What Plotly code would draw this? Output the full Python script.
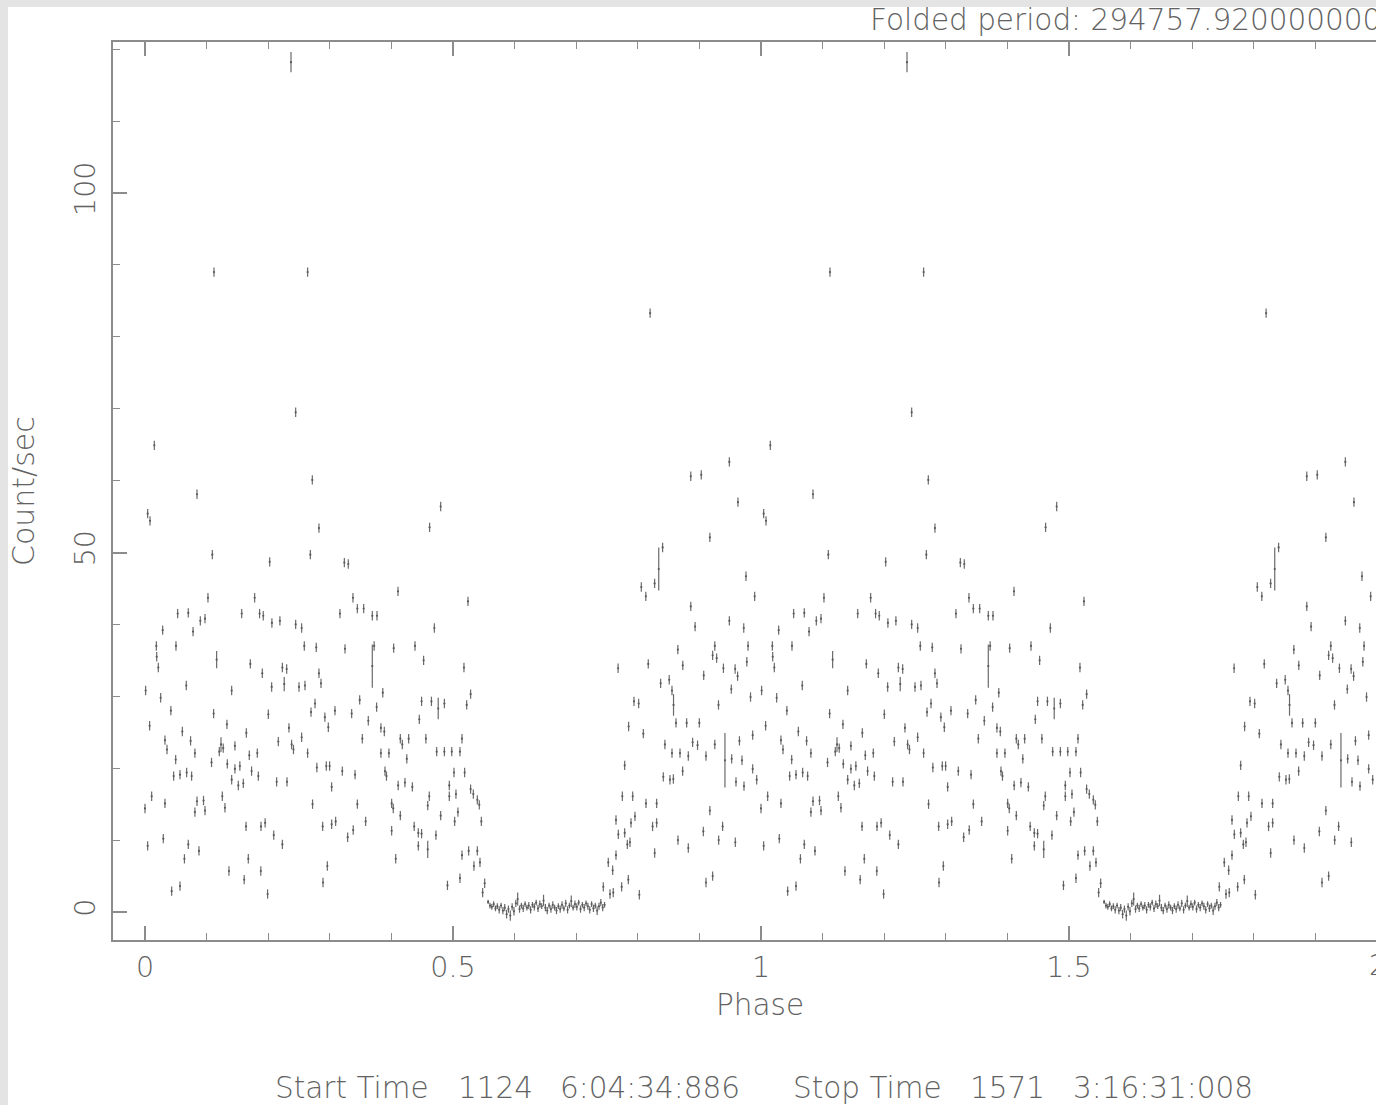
import plotly.graph_objects as go

# ---------------- data (phase, count rate [, error]) ----------------
DEFAULT_ERR = 0.65

flare_points = [
    (0.112, 89.0), (0.237, 118.2, 1.4), (0.264, 89.0), (0.82, 83.3),
    (0.2446, 69.5), (0.0151, 64.9), (0.9486, 62.6), (0.2716, 60.1),
    (0.886, 60.6), (0.903, 60.8), (0.0844, 58.1), (0.9626, 57.0),
]

first_half = [
    (0.001, 30.8), (0.000, 14.4), (0.0043, 55.4), (0.0081, 54.4), (0.0043, 9.2),
    (0.0075, 25.9), (0.0108, 16.1), (0.019, 35.5), (0.0216, 34.0), (0.0184, 37.0),
    (0.0254, 29.8), (0.0287, 39.2), (0.0297, 10.2), (0.0324, 23.9), (0.0324, 15.1),
    (0.0357, 22.6), (0.042, 28.0), (0.0433, 2.9), (0.0465, 18.9), (0.0498, 21.2),
    (0.0503, 37.0), (0.053, 41.5), (0.0568, 19.1), (0.0568, 3.6), (0.0606, 25.1),
    (0.064, 7.4), (0.067, 31.5), (0.0676, 19.4), (0.0703, 41.6), (0.0703, 9.4),
    (0.074, 23.8), (0.0757, 18.9), (0.078, 39.0), (0.081, 22.1), (0.081, 13.9),
    (0.0844, 15.4), (0.0876, 8.5), (0.0898, 40.5), (0.095, 15.5), (0.0974, 40.8),
    (0.0974, 14.1), (0.1022, 43.7), (0.1093, 49.7), (0.108, 20.8), (0.1114, 27.6),
    (0.1163, 35.1, 1.2), (0.1206, 22.3), (0.1234, 23.3, 1.0), (0.1255, 16.1),
    (0.127, 22.8), (0.1298, 14.5), (0.133, 26.1), (0.1336, 20.6), (0.1363, 5.7),
    (0.1407, 30.8), (0.1407, 18.4), (0.146, 23.1), (0.146, 19.9), (0.1515, 17.6),
    (0.154, 20.3), (0.157, 41.5), (0.1596, 17.9), (0.161, 4.5), (0.164, 11.9),
    (0.1645, 24.9), (0.1677, 7.4), (0.1693, 21.8), (0.171, 34.5), (0.173, 19.6),
    (0.178, 43.7), (0.1823, 22.1), (0.184, 18.9), (0.186, 41.5), (0.188, 5.7),
    (0.1883, 11.9), (0.1904, 33.2), (0.192, 41.2), (0.195, 12.4), (0.199, 2.5),
    (0.2002, 27.5), (0.2024, 48.7), (0.2056, 31.3), (0.206, 40.2), (0.209, 10.7),
    (0.2137, 18.1), (0.2164, 23.7), (0.219, 40.5), (0.223, 34.0), (0.223, 9.4),
    (0.226, 31.7, 1.0), (0.230, 33.8), (0.2305, 18.1), (0.2337, 25.6), (0.238, 23.3),
    (0.241, 22.6), (0.2446, 40.0), (0.25, 31.3), (0.2543, 39.5), (0.2543, 24.3),
    (0.2586, 37.0), (0.2597, 31.5), (0.264, 22.1), (0.2684, 49.7), (0.2695, 27.8),
    (0.272, 15.0), (0.276, 29.0), (0.278, 36.8), (0.279, 20.1), (0.2824, 53.4),
    (0.2824, 33.2), (0.2857, 31.8), (0.2884, 11.9), (0.289, 4.1), (0.292, 27.1),
    (0.2943, 20.3), (0.296, 6.4), (0.2976, 25.7), (0.2997, 20.3), (0.303, 17.4),
    (0.303, 12.2), (0.3084, 28.0), (0.3095, 12.6), (0.3165, 41.5), (0.3203, 19.6),
    (0.3236, 48.6), (0.3247, 36.6), (0.329, 10.4), (0.330, 48.4), (0.3355, 27.6),
    (0.3376, 43.7), (0.338, 11.4), (0.341, 19.1), (0.3447, 42.2), (0.3447, 15.0),
    (0.3485, 29.5), (0.3528, 24.1), (0.355, 42.2), (0.3582, 12.6), (0.3625, 26.6),
    (0.369, 41.2), (0.369, 34.2, 3.0), (0.372, 37.0), (0.376, 28.5), (0.3766, 41.2),
    (0.383, 25.6), (0.383, 22.1), (0.386, 30.5), (0.3885, 25.1), (0.3896, 19.6),
    (0.392, 18.9), (0.396, 22.1), (0.4004, 15.1), (0.4004, 11.3), (0.403, 14.4),
    (0.4037, 36.7), (0.407, 7.4), (0.4107, 44.6), (0.411, 17.6), (0.4145, 24.1),
    (0.4145, 13.4), (0.4177, 23.3), (0.422, 18.0), (0.425, 21.3), (0.428, 24.1),
    (0.434, 17.4), (0.437, 11.9), (0.4383, 37.0), (0.4437, 11.0), (0.4437, 9.2),
    (0.4453, 26.8), (0.449, 29.3), (0.449, 10.9), (0.4523, 35.0), (0.456, 24.1),
    (0.459, 14.8), (0.459, 8.7, 1.2), (0.4615, 16.1), (0.462, 53.5), (0.465, 29.3),
    (0.4697, 39.5), (0.4723, 10.7), (0.4735, 22.3), (0.476, 28.3, 1.5), (0.48, 56.4),
    (0.48, 13.4), (0.486, 29.0), (0.486, 22.3), (0.491, 3.7), (0.494, 17.6),
    (0.494, 16.1), (0.498, 22.3),
]

second_half = [
    (0.5016, 19.4), (0.5027, 12.6), (0.5048, 16.4), (0.508, 13.9), (0.5113, 22.3),
    (0.5113, 4.7), (0.5146, 24.1), (0.5146, 7.9), (0.5178, 34.0), (0.5189, 19.4),
    (0.5222, 28.8), (0.5243, 43.2), (0.5254, 8.5), (0.5286, 30.3), (0.5286, 17.1),
    (0.533, 16.4), (0.534, 6.4), (0.5395, 15.6), (0.5395, 8.5), (0.5427, 14.9),
    (0.5438, 6.9), (0.546, 12.6), (0.5481, 2.7), (0.5514, 4.0),
    (0.744, 3.5), (0.7521, 6.9), (0.7549, 2.5), (0.7592, 5.8), (0.7602, 2.7),
    (0.7646, 12.8), (0.7646, 7.9), (0.768, 33.9), (0.7684, 10.8), (0.7738, 3.5),
    (0.7749, 16.1), (0.7787, 20.4), (0.7787, 11.0), (0.783, 9.4), (0.7846, 4.5),
    (0.7851, 25.8), (0.7873, 9.7), (0.789, 12.4), (0.7917, 16.1), (0.7938, 29.3),
    (0.7954, 13.3), (0.8014, 29.0), (0.8025, 2.4), (0.8057, 45.2), (0.809, 24.8),
    (0.813, 43.9), (0.8133, 15.1), (0.817, 34.5), (0.824, 11.9), (0.8273, 45.7),
    (0.8274, 8.2), (0.8306, 15.1), (0.8306, 12.4), (0.834, 47.7, 3.0), (0.8371, 31.8),
    (0.8403, 50.7), (0.8414, 18.8), (0.844, 23.3), (0.851, 32.3), (0.8522, 18.4),
    (0.8555, 30.8), (0.8555, 22.1), (0.8577, 18.5), (0.858, 28.8, 1.5), (0.862, 26.3),
    (0.8652, 10.0), (0.865, 36.5), (0.8685, 22.1), (0.8728, 19.6), (0.873, 34.3),
    (0.8793, 26.3), (0.882, 21.7), (0.882, 8.9), (0.886, 42.5), (0.889, 23.6),
    (0.893, 39.7), (0.897, 23.2), (0.8999, 26.3), (0.9064, 11.2), (0.907, 32.9),
    (0.9107, 21.7), (0.9107, 4.1), (0.917, 52.1), (0.917, 14.1), (0.9215, 35.7),
    (0.9215, 5.0), (0.925, 37.0), (0.925, 23.3), (0.928, 35.3), (0.931, 28.8),
    (0.9313, 10.0), (0.9377, 11.9), (0.939, 33.9), (0.9415, 21.1, 3.8), (0.9486, 40.5),
    (0.9518, 31.0), (0.9524, 21.3), (0.958, 33.8), (0.9583, 9.7), (0.9594, 18.1),
    (0.962, 32.8), (0.965, 23.8), (0.9691, 21.1), (0.972, 39.5), (0.9724, 17.5),
    (0.9756, 46.7), (0.977, 34.8), (0.979, 37.0), (0.983, 29.9), (0.9865, 24.6),
    (0.9865, 19.9), (0.9897, 43.9), (0.993, 18.4),
]

eclipse_points = [
    (0.557, 1.4, 0.3), (0.560, 0.9, 0.4), (0.563, 0.7, 0.4), (0.566, 1.1, 0.4),
    (0.569, 0.5, 0.4), (0.572, 0.8, 0.4), (0.575, 0.3, 0.5), (0.578, 0.9, 0.4),
    (0.581, 0.2, 0.5), (0.584, 0.6, 0.5), (0.587, -0.3, 0.6), (0.590, 0.4, 0.5),
    (0.593, -0.5, 0.7), (0.596, 0.7, 0.5), (0.599, 0.1, 0.6), (0.602, 1.2, 0.5),
    (0.605, 1.8, 0.9), (0.608, 0.4, 0.5), (0.611, 0.9, 0.4), (0.614, 0.5, 0.5),
    (0.617, 1.1, 0.4), (0.620, 0.6, 0.4), (0.623, 0.9, 0.5), (0.626, 0.3, 0.5),
    (0.629, 1.0, 0.4), (0.632, 0.7, 0.5), (0.635, 1.3, 0.4), (0.638, 0.5, 0.5),
    (0.641, 1.1, 0.5), (0.644, 0.8, 0.4), (0.647, 1.6, 0.8), (0.650, 0.6, 0.5),
    (0.653, 0.2, 0.5), (0.656, 0.9, 0.4), (0.659, 0.4, 0.5), (0.662, 1.0, 0.5),
    (0.665, 0.6, 0.4), (0.668, 0.2, 0.5), (0.671, 0.8, 0.4), (0.674, 0.4, 0.5),
    (0.677, 1.0, 0.5), (0.680, 0.5, 0.4), (0.683, 1.2, 0.5), (0.686, 0.3, 0.5),
    (0.689, 0.9, 0.4), (0.692, 1.5, 0.8), (0.695, 0.6, 0.4), (0.698, 1.1, 0.5),
    (0.701, 0.7, 0.5), (0.704, 1.3, 0.4), (0.707, 0.4, 0.5), (0.710, 1.0, 0.4),
    (0.713, 0.6, 0.5), (0.716, 1.2, 0.4), (0.719, 0.8, 0.5), (0.722, 0.3, 0.5),
    (0.725, 1.1, 0.4), (0.728, 0.5, 0.5), (0.731, 0.9, 0.4), (0.734, 0.2, 0.6),
    (0.737, 0.8, 0.5), (0.740, 1.3, 0.5), (0.743, 0.6, 0.5), (0.746, 1.0, 0.4),
]

x_tick_values = [0, 0.5, 1, 1.5]
x_tick_labels = ["0", "0.5", "1", "1.5"]
y_tick_values = [0, 50, 100]
y_tick_labels = ["0", "50", "100"]

title_text = "Folded period: 294757.920000000"
footer_parts = ["Start Time", "1124", "6:04:34:886", "Stop Time", "1571", "3:16:31:008"]

# ---------------- build series (data folded twice) ----------------
all_pts = flare_points + first_half + second_half + eclipse_points
phase, rate, err = [], [], []
for cycle in (0, 1):
    for p in all_pts:
        phase.append(p[0] + cycle)
        rate.append(p[1])
        err.append(p[2] if len(p) > 2 else DEFAULT_ERR)

# ---------------- layout geometry (pixels) ----------------
W, H = 1376, 1105
L, R, T, B = 113, 0, 42, 165
PW, PH = W - L - R, H - T - B


def px(X):
    return (X - L) / PW


def py(Y):
    return (H - B - Y) / PH


TXT = "#626262"
AX = "#8c8c8c"
FONT = "DejaVu Sans"
WEIGHT = 200


def f(size):
    return dict(family=FONT, size=size, color=TXT, weight=WEIGHT)


fig = go.Figure()
fig.add_trace(go.Scatter(
    x=phase, y=rate, mode="markers",
    marker=dict(size=2.2, color="#5a5a5a"),
    error_y=dict(type="data", array=err, visible=True, color="#6a6a6a",
                 thickness=1.2, width=0),
    hoverinfo="skip", showlegend=False,
))

fig.update_layout(
    width=W, height=H,
    margin=dict(l=L, r=R, t=T, b=B, pad=0),
    paper_bgcolor="white", plot_bgcolor="white",
    font=f(28.5),
    showlegend=False,
)

fig.update_xaxes(
    range=[(L - 145) / 616, (W - 145) / 616],
    tickmode="array", tickvals=x_tick_values, ticktext=x_tick_labels,
    ticks="inside", ticklen=14, tickwidth=1.5, tickcolor=AX,
    minor=dict(dtick=0.1, tick0=0, ticks="inside", ticklen=7, tickwidth=1.2, tickcolor=AX),
    showline=True, linecolor=AX, linewidth=2, mirror="ticks",
    showgrid=False, zeroline=False,
    tickfont=f(28.5),
    ticklabelstandoff=1,
)
fig.update_yaxes(
    range=[(912 - 940) / 7.19, (912 - 42) / 7.19],
    tickmode="array", tickvals=y_tick_values, ticktext=y_tick_labels,
    ticks="inside", ticklen=14, tickwidth=1.5, tickcolor=AX,
    minor=dict(dtick=10, tick0=0, ticks="inside", ticklen=7, tickwidth=1.2, tickcolor=AX),
    showline=True, linecolor=AX, linewidth=2, mirror=False,
    showgrid=False, zeroline=False,
    tickangle=-90,
    tickfont=f(28.5),
    ticklabelstandoff=5,
)

# gray frame strips (top and left)
fig.add_shape(type="rect", xref="paper", yref="paper", x0=px(0), x1=px(8), y0=py(H), y1=py(0),
              fillcolor="#e4e4e4", line_width=0, layer="below")
fig.add_shape(type="rect", xref="paper", yref="paper", x0=px(0), x1=px(W), y0=py(7), y1=py(0),
              fillcolor="#e4e4e4", line_width=0, layer="below")

ann = []
ann.append(dict(text=title_text, x=px(868), y=py(20), xanchor="left", yanchor="middle", font=f(29.5)))
ann.append(dict(text="Count/sec", x=px(23), y=py(491), xanchor="center", yanchor="middle",
                textangle=-90, font=f(30)))
ann.append(dict(text="Phase", x=px(760), y=py(1005), xanchor="center", yanchor="middle", font=f(29.5)))
ann.append(dict(text="2", x=px(1378), y=py(966), xanchor="center", yanchor="middle", font=f(28.5)))
footer_x = [273, 456, 558, 791, 968, 1071]
for txt, X in zip(footer_parts, footer_x):
    ann.append(dict(text=txt, x=px(X), y=py(1088), xanchor="left", yanchor="middle", font=f(29.5)))
for a in ann:
    a.update(xref="paper", yref="paper", showarrow=False)
fig.update_layout(annotations=ann)

fig.write_html("out.html", config={"displayModeBar": False},
               post_script="document.body.style.margin='0';")
